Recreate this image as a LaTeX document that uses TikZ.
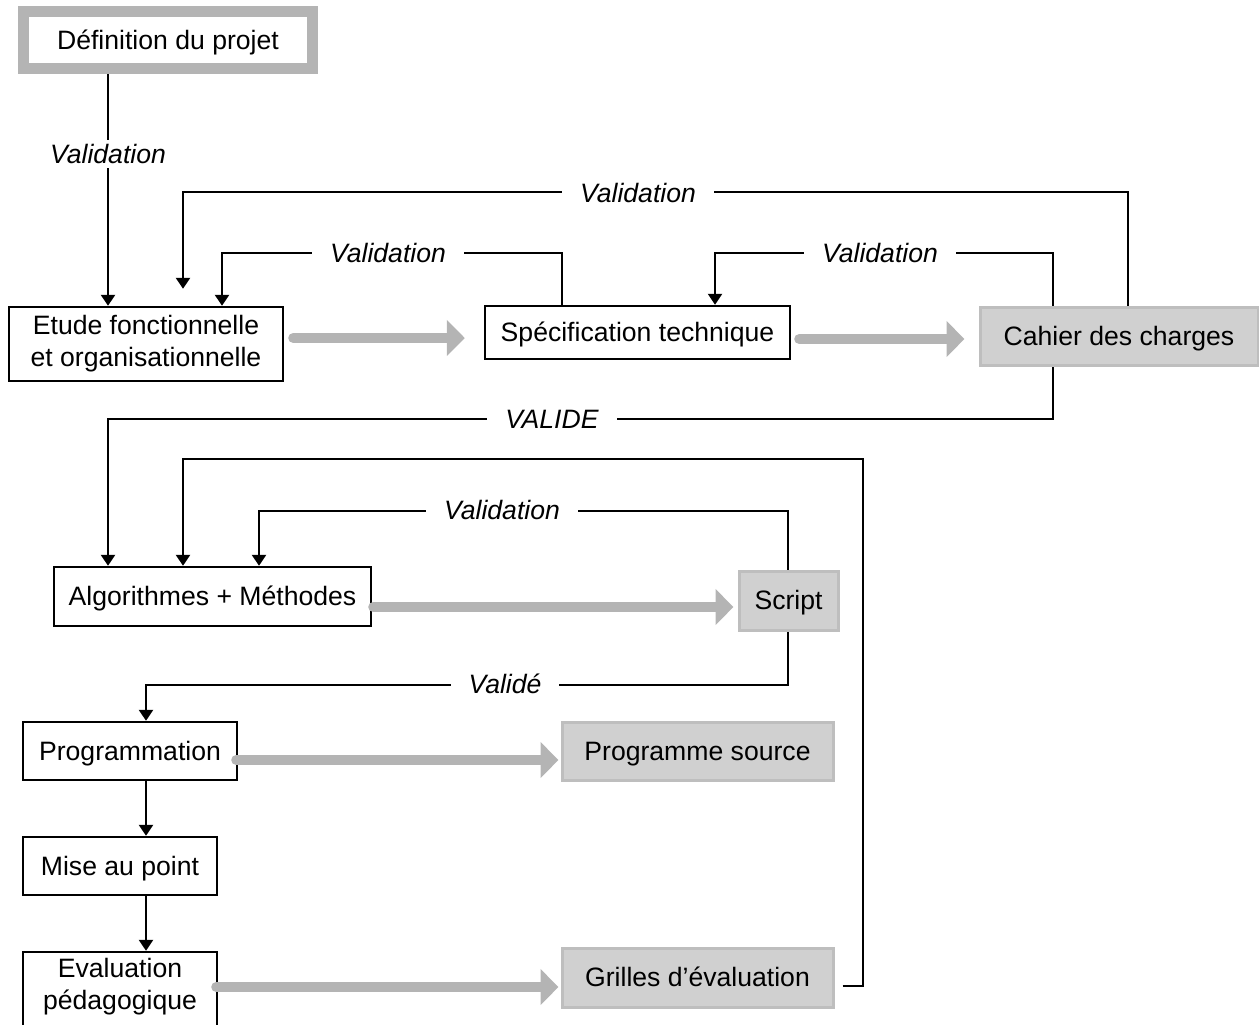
\documentclass[tikz,border=0pt]{standalone}
\usepackage{fontspec}
\setmainfont{Liberation Sans}
\usetikzlibrary{arrows.meta,calc,backgrounds}
\definecolor{shade}{RGB}{180,180,180}
\definecolor{docfill}{RGB}{208,208,208}
\definecolor{docline}{RGB}{190,190,190}
\begin{document}
\begin{tikzpicture}[x=0.5pt,y=-0.5pt,
  font=\fontsize{13.3}{16}\selectfont,
  sz/.style 2 args={minimum width=#1*0.5pt, minimum height=#2*0.5pt},
  one/.style={text height=11.8pt, text depth=2.7pt},
  box/.style={draw=black, line width=1.2pt, fill=white, inner sep=0pt, align=center},
  defbox/.style={draw=shade, line width=5.5pt, fill=white, inner sep=0pt, align=center},
  doc/.style={draw=docline, line width=1.5pt, fill=docfill, inner sep=0pt, align=center},
  link/.style={line width=1.1pt, -{Triangle[width=7pt,length=5.5pt]}},
  flow/.style={draw=shade, line width=5pt, line cap=round, -{Triangle[width=17.5pt,length=9pt]}},
  lbl/.style={fill=white, inner xsep=9pt, inner ysep=2pt, font=\fontsize{13.3}{16}\selectfont\itshape},
]
\useasboundingbox (0,0) rectangle (1259,1024);

% boxes
\node[defbox, one, sz={289}{57}] (def) at (168,40) {Définition du projet};
\node[box, sz={274}{74}] (etude) at (146,344) {Etude fonctionnelle\\et organisationnelle};
\node[box, one, sz={305}{53}] (spec) at (637.5,332.5) {Spécification technique};
\node[doc, one, sz={278}{58}] (cahier) at (1119,336) {Cahier des charges};
\node[box, one, sz={317}{59}] (algo) at (212.5,596.5) {Algorithmes + Méthodes};
\node[doc, one, sz={99}{59}] (script) at (788.5,600.5) {Script};
\node[box, one, sz={214}{58}] (prog) at (130,751) {Programmation};
\node[doc, one, sz={271}{58}] (source) at (697.5,751) {Programme source};
\node[box, one, sz={194}{58}] (mise) at (120,866) {Mise au point};
\node[box, text depth=8pt, sz={194}{80}] (eval) at (120,992) {Evaluation\\pédagogique};
\node[doc, one, sz={271}{59}] (grilles) at (697.5,977.5) {Grilles d’évaluation};

% free ends of two feedback lines
\coordinate (topend) at ($(etude.north)+(37,-17)$);
\coordinate (gstart) at ($(grilles.east)+(8,8.5)$);

% validation connectors, kept behind the boxes
\begin{scope}[on background layer]
\draw[link] (def.south -| 108,0) -- (etude.north -| 108,0);
\draw[link] (cahier.north -| 1128,0) -- (1128,192) -- (183,192) -- (topend);
\draw[link] (spec.north -| 562,0) -- (562,253) -- (222,253) -- (etude.north -| 222,0);
\draw[link] (cahier.north -| 1053,0) -- (1053,253) -- (715,253) -- (spec.north -| 715,0);
\draw[link] (cahier.south -| 1053,0) -- (1053,419) -- (108,419) -- (algo.north -| 108,0);
\draw[link] (gstart) -- (863,986) -- (863,459) -- (183,459) -- (algo.north -| 183,0);
\draw[link] (script.north -| 788,0) -- (788,511) -- (259,511) -- (algo.north -| 259,0);
\draw[link] (script.south -| 788,0) -- (788,685) -- (146,685) -- (prog.north -| 146,0);
\draw[link] (prog.south -| 146,0) -- (mise.north -| 146,0);
\draw[link] (mise.south -| 146,0) -- (eval.north -| 146,0);
\end{scope}

% labels on the connectors
\node[lbl] (v0) at (108,154) {Validation};
\node[lbl] (v1) at (638,193) {Validation};
\node[lbl] (v2) at (388,253) {Validation};
\node[lbl] (v3) at (880,253) {Validation};
\node[lbl] (v4) at (552,419) {VALIDE};
\node[lbl] (v5) at (502,510) {Validation};
\node[lbl] (v6) at (505,684) {Validé};

% production flow
\draw[flow] ($(etude.east)+(9,-6)$) -- ($(spec.west)+(-19,5.5)$);
\draw[flow] ($(spec.east)+(8,6.5)$) -- ($(cahier.west)+(-14,3)$);
\draw[flow] ($(algo.east)+(1,10.5)$) -- ($(script.west)+(-4,6.5)$);
\draw[flow] ($(prog.east)+(-2,9)$) -- ($(source.west)+(-2,9)$);
\draw[flow] ($(eval.east)+(-2,-5)$) -- ($(grilles.west)+(-2,9.5)$);
\end{tikzpicture}
\end{document}
